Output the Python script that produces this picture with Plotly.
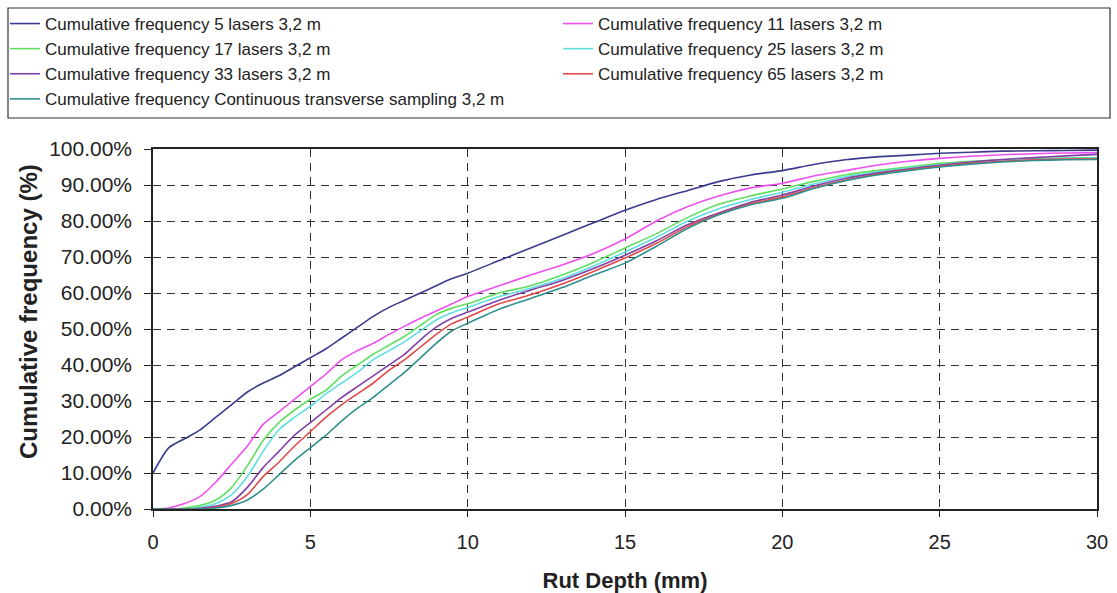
import plotly.graph_objects as go

rut_depth = [0, 0.5, 1, 1.5, 2, 2.5, 3, 3.5, 4, 4.5, 5, 5.5, 6, 6.5, 7, 7.5, 8, 8.5, 9, 9.5, 10,
             11, 12, 13, 14, 15, 16, 17, 18, 19, 20, 21, 22, 23, 24, 25, 26, 27, 28, 29, 30]

freq_5 = [10, 17, 19.5, 22, 25.5, 29, 32.5, 35, 37, 39.5, 42, 44.5, 47.5, 50.5, 53.5, 56, 58, 60, 62, 64, 65.5,
          69, 72.5, 76, 79.5, 83, 86, 88.5, 91, 92.8, 94, 95.7, 97, 97.8, 98.3, 98.8, 99.1, 99.4, 99.5, 99.6, 99.7]
freq_11 = [0, 0.3, 1.5, 3.5, 7.5, 12.5, 17.5, 23.5, 27, 30.5, 34, 37.5, 41.5, 44, 46, 48.5, 50.8, 53, 55, 57, 59,
           62, 65, 67.8, 71, 75, 80, 84, 87, 89.2, 90.5, 92.5, 94, 95.5, 96.6, 97.4, 98, 98.4, 98.7, 98.9, 99]
freq_17 = [0, 0, 0.3, 1, 2.5, 6, 12, 19, 24, 27.5, 30.5, 33, 37, 40, 43, 45.5, 48, 51, 54, 55.8, 57,
           60, 62, 65, 68.5, 72.5, 76.5, 81, 84.7, 87, 88.9, 91, 92.8, 94, 95, 96, 96.6, 97, 97.3, 97.5, 97.6]
freq_25 = [0, 0, 0, 0.5, 1.5, 4, 9, 16, 22, 25.5, 28.5, 32, 35, 38, 41.5, 44, 46.5, 49.5, 52.5, 54.5, 56,
           59, 61.3, 64, 67.5, 71.4, 75.5, 80, 83.5, 86, 88, 90.3, 92.3, 93.6, 94.7, 95.6, 96.3, 96.8, 97.1, 97.4, 97.5]
freq_33 = [0, 0, 0, 0.2, 0.8, 2, 6, 11.5, 16, 20.5, 24, 27.5, 31, 34, 37, 40, 43, 47, 50.5, 53, 54.7,
           58, 60.8, 63.5, 66.8, 70.5, 74.5, 79, 82.3, 85.2, 87.2, 89.7, 91.8, 93.3, 94.4, 95.5, 96.4, 97.1, 97.6, 98.1, 98.5]
freq_65 = [0, 0, 0, 0, 0.5, 1.5, 4, 9, 13, 17.5, 21.5, 25.5, 29, 32, 35, 38.5, 41.5, 45, 48.5, 51.5, 53.3,
           57, 59.5, 62.5, 66, 69.7, 73.8, 78.5, 82, 84.8, 86.7, 89.2, 91.3, 93, 94.2, 95.2, 96, 96.6, 97, 97.2, 97.3]
freq_cont = [0, 0, 0, 0, 0.3, 1, 2.5, 5.5, 9.5, 13.5, 17, 20.5, 24.5, 28, 31, 34.5, 38, 42, 46, 49.5, 51.6,
             55.5, 58.5, 61.5, 65, 68.3, 73, 78, 81.8, 84.5, 86.3, 89, 91.2, 92.8, 94, 95, 95.8, 96.4, 96.8, 97, 97.1]

series_names = [
    "Cumulative frequency 5 lasers 3,2 m",
    "Cumulative frequency 11 lasers 3,2 m",
    "Cumulative frequency 17 lasers 3,2 m",
    "Cumulative frequency 25 lasers 3,2 m",
    "Cumulative frequency 33 lasers 3,2 m",
    "Cumulative frequency 65 lasers 3,2 m",
    "Cumulative frequency Continuous transverse sampling 3,2 m",
]
series_values = [freq_5, freq_11, freq_17, freq_25, freq_33, freq_65, freq_cont]
series_colors = ["#3b3b8f", "#ee4fee", "#5ee05e", "#5fdede", "#8040a8", "#e24848", "#2f8f8f"]
series_legend = ["legend", "legend2", "legend", "legend2", "legend", "legend2", "legend"]

x_ticks = [0, 5, 10, 15, 20, 25, 30]
y_ticks = [0, 10, 20, 30, 40, 50, 60, 70, 80, 90, 100]

x_title = "Rut Depth (mm)"
y_title = "Cumulative frequency (%)"

FONT = "Liberation Sans, Arial, sans-serif"
TXT = "#222222"

# plot-area pixel geometry
L, R, T, B = 153, 1097, 149, 509
PW, PH = R - L, B - T

fig = go.Figure()
for name, vals, col, lg in zip(series_names, series_values, series_colors, series_legend):
    fig.add_trace(go.Scatter(x=rut_depth, y=vals, mode="lines", name=name, legend=lg,
                             line=dict(color=col, width=1.6, shape="spline", smoothing=0.7)))

# legend frame
fig.add_shape(type="rect", xref="paper", yref="paper",
              x0=(8 - L) / PW, x1=(1110 - L) / PW,
              y0=(B - 118) / PH, y1=(B - 8) / PH,
              line=dict(color="#333333", width=1.2), fillcolor="rgba(0,0,0,0)", layer="below")

# y-axis title (placed slightly above plot centre, as in the original)
fig.add_annotation(text=f"<b>{y_title}</b>", xref="paper", yref="paper",
                   x=(28 - L) / PW, y=(B - 311) / PH, xanchor="center", yanchor="middle",
                   textangle=-90, showarrow=False,
                   font=dict(size=24, family=FONT, color=TXT))

legend_common = dict(orientation="v", xref="paper", yref="container",
                     y=1 - 6 / 593, xanchor="left", yanchor="top",
                     font=dict(size=17, family=FONT, color=TXT),
                     bgcolor="rgba(0,0,0,0)", borderwidth=0, itemwidth=30,
                     traceorder="normal")

fig.update_layout(
    width=1117, height=593,
    margin=dict(l=L, r=1117 - R, t=T, b=593 - B, autoexpand=False),
    paper_bgcolor="white", plot_bgcolor="white",
    font=dict(family=FONT, color=TXT),
    showlegend=True,
    legend=dict(x=(5 - L) / PW, **legend_common),
    legend2=dict(x=(558 - L) / PW, **legend_common),
    xaxis=dict(range=[0, 30], tickvals=x_ticks, ticktext=[str(v) for v in x_ticks],
               showgrid=True, gridcolor="#333333", gridwidth=1, griddash="8px,6px",
               showline=True, linecolor=TXT, linewidth=1.5, mirror=True,
               ticks="outside", ticklen=6, tickcolor=TXT,
               tickfont=dict(size=20, family=FONT, color=TXT),
               ticklabelstandoff=8, zeroline=False, automargin=False,
               title=dict(text=f"<b>{x_title}</b>", font=dict(size=22, family=FONT, color=TXT),
                          standoff=21)),
    yaxis=dict(range=[0, 100], tickvals=y_ticks, ticktext=[f"{v:.2f}%" for v in y_ticks],
               showgrid=True, gridcolor="#333333", gridwidth=1, griddash="8px,6px",
               showline=True, linecolor=TXT, linewidth=1.5, mirror=True,
               ticks="outside", ticklen=7, tickcolor=TXT,
               tickfont=dict(size=21, family=FONT, color=TXT),
               ticklabelstandoff=8, zeroline=False, automargin=False),
)

fig.write_html("out.html")
